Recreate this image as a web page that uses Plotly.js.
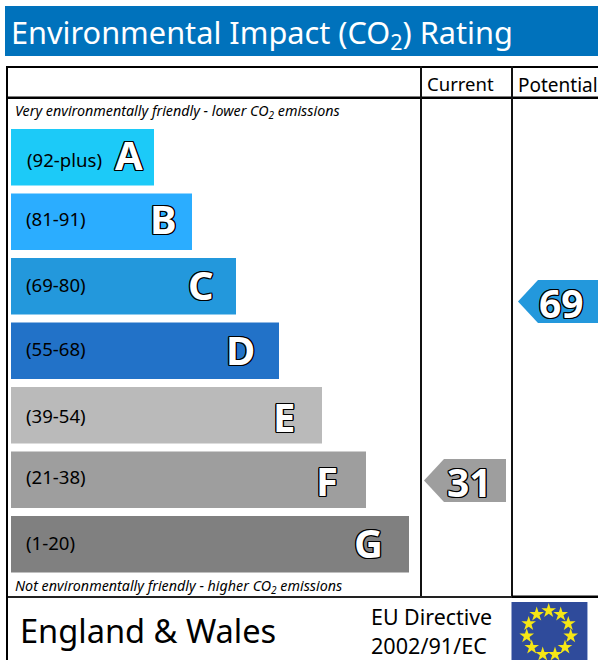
<!DOCTYPE html>
<html><head><meta charset="utf-8">
<script src="https://cdn.plot.ly/plotly-3.0.1.min.js"></script>
<style>html,body{margin:0;padding:0;background:#fff;overflow:hidden}</style></head>
<body><div id="chart" style="width:598px;height:660px"></div>
<script>
const bandLetters = ['A','B','C','D','E','F','G'];
const bandRanges = ['(92-plus)','(81-91)','(69-80)','(55-68)','(39-54)','(21-38)','(1-20)'];
const bandLengths = [143,181,225,268,311,355,398];
const bandColors = ['#1CCAF8','#2BADFF','#2398DC','#2272C8','#BABABA','#9E9E9E','#808080'];
const currentScore = 31;
const potentialScore = 69;
const titleText = 'Environmental Impact (CO<sub>2</sub>) Rating';
const topNote = 'Very environmentally friendly - lower CO<sub>2</sub> emissions';
const bottomNote = 'Not environmentally friendly - higher CO<sub>2</sub> emissions';
const starX = [548.7,560.7,568.3,570.7,565,555,542.7,531.7,526.7,528.7,536.7];
const starY = [610.7,614.3,623.7,636,647.3,654.3,654.3,647.3,636,623.7,614.3];

const FONT = '"Noto Sans","Open Sans",sans-serif';
const OUTLINE = '-1.2px 0 0 #000,1.2px 0 0 #000,0 -1.2px 0 #000,0 1.2px 0 #000,-1px -1px 0 #000,1px -1px 0 #000,-1px 1px 0 #000,1px 1px 0 #000';
const scoreY = s => 301.5 + (69 - s) * 4.71;

function pointer(score, tip, right, color){
  const y = scoreY(score), h = 21.5, sh = tip + 20;
  return {type:'scatter', mode:'lines', xaxis:'x2', yaxis:'y2', fill:'toself', fillcolor:color,
    line:{width:0,color:color}, hoverinfo:'skip', showlegend:false,
    x:[tip,sh,right,right,sh,tip], y:[y,y-h,y-h,y+h,y+h,y]};
}
const traces = [
  {type:'bar', orientation:'h', y:bandLetters, x:bandLengths, marker:{color:bandColors,line:{width:0}},
   hoverinfo:'skip', showlegend:false},
  pointer(potentialScore,518,598,'#2398DC'),
  pointer(currentScore,424,506,'#9E9E9E'),
  {type:'scatter', mode:'markers', xaxis:'x2', yaxis:'y2', x:starX, y:starY, hoverinfo:'skip', showlegend:false,
   marker:{symbol:'star',size:11,color:'#F5E616',line:{width:0}}}
];
const ann = (text,x,y,size,opts={}) => Object.assign({text,x,y,xref:'x2',yref:'y2',showarrow:false,
  xanchor:'left',yanchor:'middle',align:'left',font:{family:FONT,size,color:'#000'}},opts);
const bigNum = (t,x,y) => ann(t,x,y,39,{xanchor:'center',font:{family:FONT,size:39,color:'#fff',weight:700,shadow:OUTLINE}});
const annotations = [
  ann(titleText,9,33,30.7,{font:{family:FONT,size:30.7,color:'#fff'}}),
  ann('Current',460,83,18.5,{xanchor:'center'}),
  ann('Potential',557.5,85,19,{xanchor:'center'}),
  ann(topNote,13,111,14.3,{font:{family:FONT,size:14.3,color:'#000',style:'italic'}}),
  ann(bottomNote,13,586,14.3,{font:{family:FONT,size:14.3,color:'#000',style:'italic'}}),
  ann('England &amp; Wales',18,630,32.6),
  ann('EU Directive',368.5,616,21.4),
  ann('2002/91/EC',369,645,21.6),
  bigNum(String(potentialScore),561.5,302),
  bigNum(String(currentScore),469,481)
];
const letterOffset = [25,29,35,39,38,39,41];
const rangeShift = [-2,3,2,2,0,3,2];
const letterShift = [3,3,2,1,-1,-1,2];
bandLetters.forEach((l,i)=>{
  annotations.push({text:bandRanges[i],x:i===0?14:13,y:l,yshift:rangeShift[i],xref:'x',yref:'y',showarrow:false,xanchor:'left',yanchor:'middle',
    font:{family:FONT,size:18.6,color:'#000'}});
  annotations.push({text:l,x:bandLengths[i]-letterOffset[i],y:l,yshift:letterShift[i],xref:'x',yref:'y',showarrow:false,xanchor:'center',yanchor:'middle',
    font:{family:FONT,size:40,color:'#fff',weight:700,shadow:OUTLINE}});
});
const rect=(x0,y0,x1,y1,c,layer)=>({type:'rect',xref:'x2',yref:'y2',x0,y0,x1,y1,fillcolor:c,line:{width:0},layer:layer||'above'});
const shapes = [
  rect(5,6,598,56,'#0072BC','below'),
  rect(6,66,598,68,'#000'),
  rect(6,66,8,660,'#000'),
  rect(8,96.5,598,99,'#000'),
  rect(420,66,422,597,'#111'),
  rect(511,66,513,597,'#111'),
  rect(8,596,512,598,'#222'),
  rect(512,595.5,598,598,'#000'),
  rect(587,602,588,660,'#9FB0D8','below'),
  rect(511.5,602,587,660,'#2F4B9B','below')
];
const layout = {
  width:598,height:660,margin:{l:0,r:0,t:0,b:0},paper_bgcolor:'#fff',plot_bgcolor:'rgba(0,0,0,0)',
  showlegend:false,bargap:0.124,font:{family:FONT},
  xaxis:{domain:[11/598,1],range:[0,587],visible:false,fixedrange:true,anchor:'y'},
  yaxis:{domain:[1-576.5/660,1-125/660],type:'category',categoryorder:'array',categoryarray:bandLetters,
         autorange:false,range:[6.5,-0.5],visible:false,fixedrange:true,anchor:'x'},
  xaxis2:{domain:[0,1],range:[0,598],visible:false,fixedrange:true,anchor:'y2'},
  yaxis2:{domain:[0,1],range:[660,0],visible:false,fixedrange:true,anchor:'x2'},
  annotations,shapes
};
Plotly.newPlot('chart',traces,layout,{displayModeBar:false,staticPlot:true});
</script></body></html>
